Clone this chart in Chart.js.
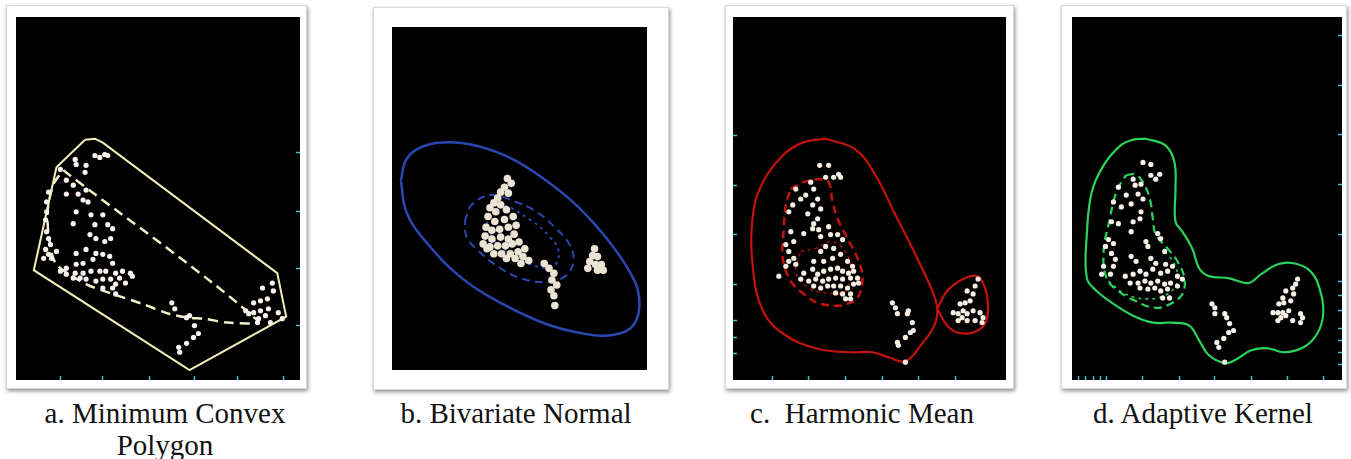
<!DOCTYPE html>
<html>
<head>
<meta charset="utf-8">
<script src="https://cdn.jsdelivr.net/npm/chart.js@4/dist/chart.umd.min.js"></script>
<style>
    body { margin: 0; background: #fff; width: 1351px; height: 459px; position: relative; overflow: hidden; }
    .card { position: absolute; background: #fff; border: 1px solid #d8d8d8; box-shadow: 1px 2px 4px rgba(0,0,0,0.45); }
    .plot { position: absolute; background: #000; }
    .caption { position: absolute; font-family: "Liberation Serif", "Times New Roman", serif; font-size: 29px; color: #111; text-align: center; white-space: pre; line-height: 32px; }
</style>
</head>
<body>
<div class="card" style="left:6px;top:5px;width:299px;height:382px"></div>
<div class="card" style="left:373px;top:7px;width:294px;height:381px"></div>
<div class="card" style="left:725px;top:5px;width:287px;height:382px"></div>
<div class="card" style="left:1061px;top:5px;width:284px;height:382px"></div>

<div class="plot" style="left:16px;top:17px;width:284px;height:363px"><canvas id="chartA"></canvas></div>
<div class="plot" style="left:392px;top:27px;width:255px;height:343px"><canvas id="chartB"></canvas></div>
<div class="plot" style="left:733px;top:17px;width:273px;height:363px"><canvas id="chartC"></canvas></div>
<div class="plot" style="left:1072px;top:17px;width:270px;height:363px"><canvas id="chartD"></canvas></div>

<div class="caption" id="capA" style="left:15px;top:397px;width:300px"></div>
<div class="caption" id="capB" style="left:366px;top:397px;width:300px"></div>
<div class="caption" id="capC" style="left:712px;top:397px;width:300px"></div>
<div class="caption" id="capD" style="left:1053px;top:397px;width:300px"></div>

<script>
const captions = ["a. Minimum Convex\nPolygon", "b. Bivariate Normal", "c.  Harmonic Mean", "d. Adaptive Kernel"];

// tick marks along the frame edges
const aTicksX = [57, 100, 147, 193, 237, 283];
const aTicksY = [150, 210, 267, 325];
const cTicksX = [772, 808, 845, 882, 918, 955];
const cTicksY = [133, 183, 233, 283, 320, 337, 353];
const dTicksX = [1075, 1082, 1090, 1097, 1103, 1140, 1177, 1213, 1250, 1287, 1323];
const dTicksY = [32, 82, 132, 182, 233, 280, 295, 310, 328, 340, 352, 364];

// --- a. minimum convex polygon ---
const mcpLocations = [
    [72,157],[73,162],[83,163],[92,153],[97,155],[102,152],[105,153],[57,167],[63,178],[70,183],
    [82,170],[75,192],[63,192],[83,188],[80,198],[85,200],[73,210],[70,222],[88,213],[100,213],
    [92,223],[105,223],[110,227],[87,233],[93,237],[102,240],[108,237],[45,190],[43,200],[43,210],
    [42,218],[43,230],[45,237],[47,243],[42,248],[45,253],[40,257],[48,257],[53,250],[73,252],
    [83,248],[93,252],[100,253],[107,255],[110,262],[90,258],[80,262],[73,263],[63,267],[57,270],
    [63,273],[72,272],[80,272],[88,270],[97,270],[103,270],[113,272],[120,270],[128,272],[117,277],
    [108,278],[100,278],[93,280],[83,278],[77,277],[70,277],[113,283],[123,282],[130,275],[110,287],
    [113,293],[100,287],
    [170,302],[173,308],[188,315],[185,317],[193,325],[197,333],[192,337],[185,343],[177,347],[178,352],
    [262,287],[272,282],[273,290],[253,302],[260,300],[267,298],[268,308],[260,310],[253,312],[245,310],
    [248,313],[265,315],[258,318],[257,322],[270,322],[278,312],[282,318]
];
const mcpHull = [[82,137],[92,136],[100,140],[277,272],[286,316],[188,370],[30,269],[53,165],[82,137]];
const mcpCore = [[60,168],[257,320],[227,322],[203,318],[188,317],[167,313],[140,303],[110,293],[83,283],[53,263],[46,240],[44,210],[50,182],[60,168]];

// --- b. bivariate normal ---
const bvnLocations = [
    [507,178],[511,183],[504,187],[500,192],[508,193],[497,198],[493,203],[500,205],[489,208],[495,212],
    [506,210],[487,217],[494,222],[504,220],[513,217],[485,228],[491,231],[499,230],[508,228],[516,226],
    [484,237],[491,240],[500,238],[508,240],[514,235],[482,245],[489,248],[497,247],[505,247],[512,245],
    [519,243],[525,250],[518,253],[510,255],[501,255],[493,255],[486,250],[506,260],[515,260],[523,258],
    [529,262],[521,265],[545,265],[550,270],[555,275],[553,282],[558,287],[552,292],[555,298],[556,308],
    [597,250],[595,257],[600,258],[592,263],[598,266],[604,266],[590,270],[600,272],[606,272]
];
const bvnOuter = [[397,180],[403,158],[420,145],[447,141],[477,145],[510,157],[547,180],[580,207],[610,240],[633,273],
    [643,300],[638,327],[617,338],[587,337],[547,327],[503,307],[460,280],[423,243],[403,213],[397,180]];
const bvnMiddle = [[463,222],[470,205],[490,195],[513,201],[537,212],[557,229],[572,247],[575,264],[567,278],[547,284],
    [520,280],[497,268],[477,252],[465,238],[463,222]];
const bvnInner = [[485,225],[500,206],[530,220],[550,237],[560,253],[555,267],[537,268],[515,258],[495,243],[485,225]];

// --- c. harmonic mean ---
const hmLocations = [
    [819,163],[828,163],[825,175],[833,175],[838,172],[840,175],[795,187],[810,180],[813,187],[805,193],
    [817,197],[812,203],[820,207],[800,197],[792,203],[788,210],[807,212],[817,217],[813,222],[812,227],
    [803,232],[818,228],[820,235],[828,225],[790,230],[793,240],[830,233],[837,233],[842,238],[825,245],
    [820,250],[833,247],[785,243],[788,250],[793,257],[788,260],[785,265],[795,263],[778,275],[813,260],
    [823,260],[832,257],[840,253],[847,260],[852,265],[803,272],[812,268],[817,273],[823,270],[830,268],
    [837,267],[842,270],[848,272],[853,270],[800,278],[808,280],[815,278],[822,280],[828,278],[835,277],
    [842,278],[850,277],[857,277],[813,285],[820,287],[827,285],[833,285],[840,285],[847,287],[853,283],
    [858,282],[835,292],[842,293],[850,293],[845,298],[850,298],
    [892,302],[895,307],[897,313],[907,313],[908,310],[912,322],[913,330],[910,332],[905,337],[897,342],
    [898,345],[905,362],
    [978,278],[975,285],[973,293],[967,290],[965,302],[970,300],[960,303],[963,310],[953,312],[958,313],
    [967,313],[973,310],[980,312],[983,317],[958,320],[967,320],[975,320],[982,322],[962,317]
];
const hmOuter = [[825,136],[855,147],[875,173],[895,213],[915,253],[932,290],[937,308],[934,325],[922,343],[905,361],
    [888,357],[872,352],[848,352],[815,348],[782,333],[762,310],[752,267],[752,213],[762,180],[782,153],[802,140],[825,136]];
const hmSatellite = [[937,308],[947,290],[963,278],[977,275],[985,287],[988,307],[985,323],[973,332],[957,332],[947,325],[937,308]];
const hmCore = [[790,187],[803,180],[820,177],[828,180],[832,200],[837,217],[847,237],[857,257],[862,277],[857,297],
    [847,303],[837,305],[817,302],[803,293],[790,280],[782,257],[783,227],[785,203],[790,187]];
const hmInner = [[800,250],[815,247],[830,240],[845,250],[850,270],[845,290],[825,292],[805,285],[795,270],[800,250]];

// --- d. adaptive kernel ---
const akLocations = [
    [1140,160],[1148,162],[1148,173],[1157,172],[1153,177],[1130,177],[1115,185],[1132,183],[1138,182],[1123,193],
    [1135,192],[1140,197],[1110,200],[1118,205],[1128,202],[1138,210],[1137,217],[1130,220],[1108,220],[1115,222],
    [1128,230],[1105,238],[1110,242],[1143,240],[1145,245],[1155,232],[1158,237],[1162,250],[1102,245],[1108,252],
    [1112,258],[1110,265],[1100,265],[1107,273],[1098,273],[1128,255],[1133,260],[1148,257],[1153,262],[1163,263],
    [1170,265],[1122,275],[1130,273],[1137,270],[1143,273],[1150,268],[1158,272],[1165,270],[1175,275],[1180,278],
    [1127,282],[1135,282],[1142,280],[1148,282],[1155,280],[1162,283],[1168,282],[1175,285],[1137,287],[1145,288],
    [1152,287],[1158,290],[1165,288],[1160,297],[1167,297],
    [1210,303],[1213,307],[1213,313],[1223,313],[1225,317],[1228,323],[1232,330],[1227,332],[1222,338],[1215,342],
    [1217,347],[1223,362],
    [1297,278],[1295,283],[1292,287],[1285,290],[1293,293],[1282,297],[1290,300],[1278,303],[1283,302],[1272,312],
    [1277,312],[1282,312],[1288,310],[1280,317],[1285,315],[1277,320],[1292,320],[1300,313],[1302,317],[1300,322]
];
const akOuter = [[1143,136],[1163,143],[1172,160],[1173,187],[1173,220],[1180,230],[1190,247],[1197,267],[1207,275],[1227,277],
    [1247,282],[1260,273],[1277,263],[1293,262],[1310,270],[1320,290],[1323,313],[1317,333],[1303,347],[1283,352],
    [1267,348],[1250,350],[1233,360],[1223,363],[1207,355],[1197,340],[1187,325],[1170,322],[1150,322],[1130,315],
    [1110,303],[1093,290],[1083,277],[1083,233],[1088,190],[1100,163],[1117,143],[1130,137],[1143,136]];
const akCore = [[1123,173],[1132,172],[1140,180],[1147,197],[1150,217],[1153,233],[1165,247],[1175,260],[1182,277],[1180,293],
    [1168,303],[1152,307],[1132,300],[1115,290],[1103,277],[1100,250],[1105,223],[1112,193],[1118,180],[1123,173]];
const akInner = [[1105,280],[1122,293],[1145,298],[1165,293],[1175,280],[1172,263],[1162,250]];

const toXY = arr => arr.map(p => ({ x: p[0], y: p[1] }));

function pointsSet(arr, color, radius) {
    return {
        data: toXY(arr),
        showLine: false,
        pointRadius: radius,
        pointBackgroundColor: color,
        pointBorderWidth: 0,
        order: 0
    };
}

function lineSet(arr, color, width, dash, tension) {
    return {
        data: toXY(arr),
        showLine: true,
        borderColor: color,
        borderWidth: width,
        borderDash: dash,
        tension: tension,
        pointRadius: 0,
        fill: false,
        order: 1
    };
}

// axis that only draws short cyan tick marks at the given values
function tickAxis(range, ticks, position, reverse) {
    const show = ticks.length > 0;
    return {
        display: show,
        position: position,
        min: range[0],
        max: range[1],
        reverse: reverse,
        border: { display: false },
        grid: { display: show, drawOnChartArea: false, drawTicks: true, tickLength: 4, tickWidth: 1.5, color: '#3cc6d6' },
        ticks: { display: false },
        afterBuildTicks: axis => { axis.ticks = ticks.map(v => ({ value: v })); }
    };
}

function makePanel(id, datasets, xr, yr, xTicks, yTicks, yPos) {
    new Chart(document.getElementById(id), {
        type: 'scatter',
        data: { datasets: datasets },
        options: {
            responsive: true,
            maintainAspectRatio: false,
            animation: false,
            layout: { padding: 0 },
            plugins: { legend: { display: false }, tooltip: { enabled: false } },
            scales: {
                x: tickAxis(xr, xTicks, 'bottom', false),
                y: tickAxis(yr, yTicks, yPos, true)
            }
        }
    });
}

window.addEventListener('DOMContentLoaded', () => {
    ['capA', 'capB', 'capC', 'capD'].forEach((id, i) => {
        document.getElementById(id).textContent = captions[i];
    });

    makePanel('chartA', [
        lineSet(mcpHull, '#f3efb8', 2, [], 0),
        lineSet(mcpCore, '#f3efc8', 2.5, [10, 6], 0.3),
        pointsSet(mcpLocations, '#fbf3f0', 2.6)
    ], [16, 296], [17, 376], aTicksX, aTicksY, 'right');

    makePanel('chartB', [
        lineSet(bvnOuter, '#2a48b0', 2.5, [], 0.4),
        lineSet(bvnMiddle, '#2a48b0', 2, [8, 5], 0.4),
        lineSet(bvnInner, '#2a48b0', 2, [3, 4], 0.4),
        pointsSet(bvnLocations, '#ebe3d3', 3.8)
    ], [392, 647], [27, 370], [], [], 'left');

    makePanel('chartC', [
        lineSet(hmOuter, '#c4120c', 2.2, [], 0.4),
        lineSet(hmSatellite, '#c4120c', 2.2, [], 0.4),
        lineSet(hmCore, '#c4120c', 2.5, [8, 5], 0.4),
        lineSet(hmInner, '#b0100a', 1.5, [3, 4], 0.4),
        pointsSet(hmLocations, '#f6eee2', 2.6)
    ], [736, 1002], [17, 376], cTicksX, cTicksY, 'left');

    makePanel('chartD', [
        lineSet(akOuter, '#2ad45c', 2.2, [], 0.4),
        lineSet(akCore, '#2ad45c', 2.2, [8, 5], 0.4),
        lineSet(akInner, '#2ad45c', 1.5, [3, 4], 0.4),
        pointsSet(akLocations, '#f8f0e6', 2.6)
    ], [1072, 1338], [17, 376], dTicksX, dTicksY, 'right');
});
</script>
</body>
</html>
